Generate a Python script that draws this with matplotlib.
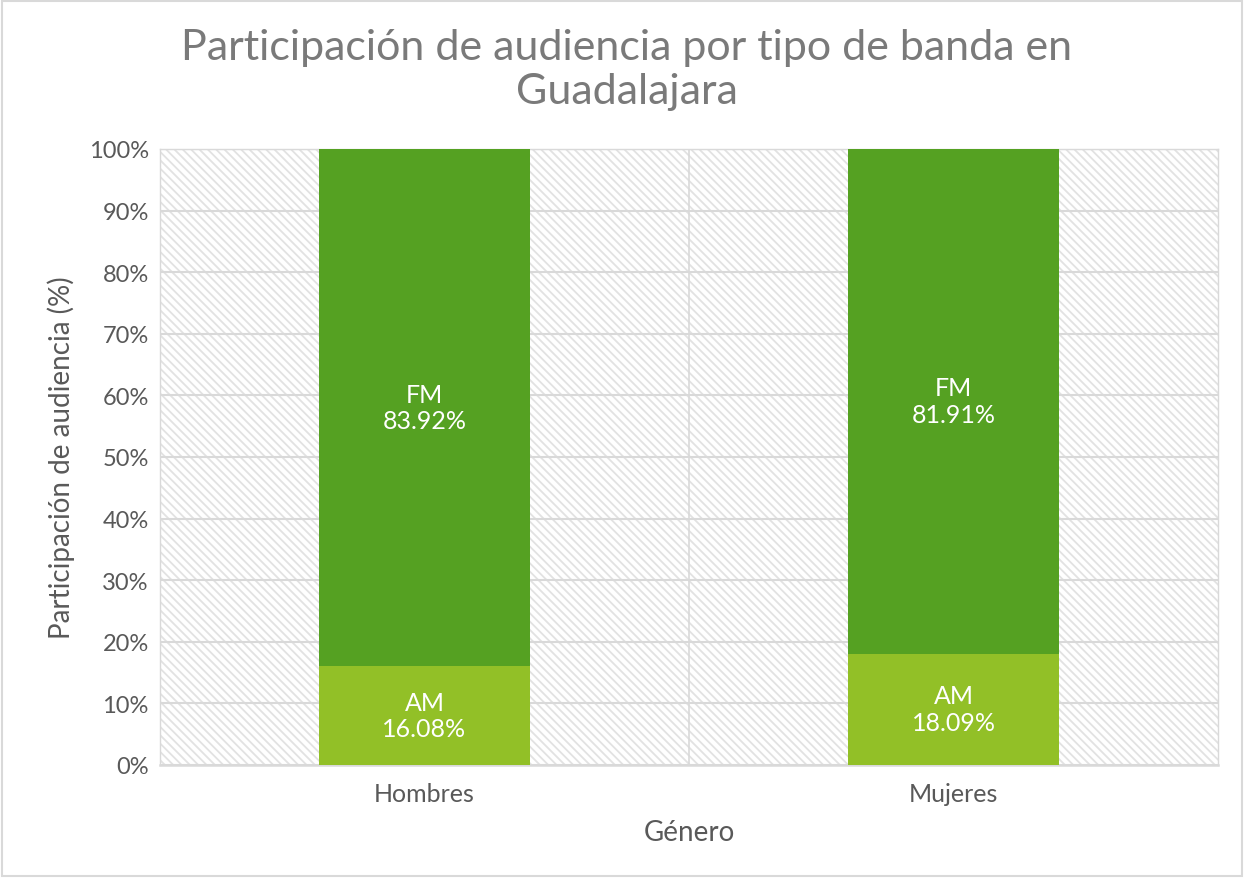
import matplotlib
matplotlib.use("Agg")
import matplotlib.pyplot as plt
import numpy as np
from matplotlib.patches import Rectangle
from matplotlib.ticker import PercentFormatter

categories = ["Hombres", "Mujeres"]
am_share = [16.08, 18.09]
fm_share = [83.92, 81.91]
series_names = ["AM", "FM"]

AM_COLOR = "#92C027"
FM_COLOR = "#55A122"
TEXT_COLOR = "#595959"
GRID_COLOR = "#D9D9D9"

plt.rcParams["font.family"] = ["Lato", "DejaVu Sans"]
plt.rcParams["hatch.linewidth"] = 1.3
plt.rcParams["hatch.color"] = "#E2E2E2"

fig = plt.figure(figsize=(12.44, 8.79), dpi=100)
fig.patches.append(Rectangle((0.002, 0.002), 0.996, 0.996, transform=fig.transFigure,
                             fill=False, edgecolor="#D9D9D9", linewidth=1.5))
ax = fig.add_axes([160 / 1244, 1 - 766 / 879, (1218 - 160) / 1244, (766 - 150) / 879])

# hatched plot area background
ax.add_patch(Rectangle((0, 0), 1, 1, transform=ax.transAxes, facecolor="white",
                       edgecolor="#E2E2E2", hatch="\\\\\\\\", linewidth=0, zorder=0))

x = np.arange(len(categories))
width = 0.4
ax.bar(x, am_share, width, color=AM_COLOR, zorder=3, label=series_names[0])
ax.bar(x, fm_share, width, bottom=am_share, color=FM_COLOR, zorder=3, label=series_names[1])

for i in range(len(categories)):
    ax.text(x[i], am_share[i] / 2, f"{series_names[0]}\n{am_share[i]:.2f}%", ha="center",
            va="center", color="white", fontsize=18, zorder=4, linespacing=1.2)
    ax.text(x[i], am_share[i] + fm_share[i] / 2, f"{series_names[1]}\n{fm_share[i]:.2f}%",
            ha="center", va="center", color="white", fontsize=18, zorder=4, linespacing=1.2)

ax.set_xlim(-0.5, 1.5)
ax.set_ylim(0, 100)
ax.set_yticks(np.arange(0, 101, 10))
ax.yaxis.set_major_formatter(PercentFormatter(decimals=0))
ax.set_xticks(x)
ax.set_xticklabels(categories)
ax.grid(axis="y", color=GRID_COLOR, linewidth=1.5, zorder=1)
ax.grid(axis="x", visible=False)
ax.axvline(0.5, color=GRID_COLOR, linewidth=1.2, zorder=1)
ax.set_axisbelow(True)
for side in ["top", "right", "left"]:
    ax.spines[side].set_color(GRID_COLOR)
    ax.spines[side].set_linewidth(1.0)
ax.spines["bottom"].set_color(GRID_COLOR)
ax.spines["bottom"].set_linewidth(1.8)
ax.tick_params(axis="y", length=0, labelsize=17, colors=TEXT_COLOR, pad=8)
ax.tick_params(axis="x", length=0, labelsize=18, colors=TEXT_COLOR, pad=12)

ax.set_xlabel("Género", fontsize=20, color=TEXT_COLOR, labelpad=10)
ax.set_ylabel("Participación de audiencia (%)", fontsize=20, color=TEXT_COLOR, labelpad=10)

fig.text(0.504, 1 - 70 / 879, "Participación de audiencia por tipo de banda en\nGuadalajara",
         ha="center", va="center", fontsize=31, color="#7A7A7A", linespacing=1.22)

fig.savefig("out.png", dpi=100)
